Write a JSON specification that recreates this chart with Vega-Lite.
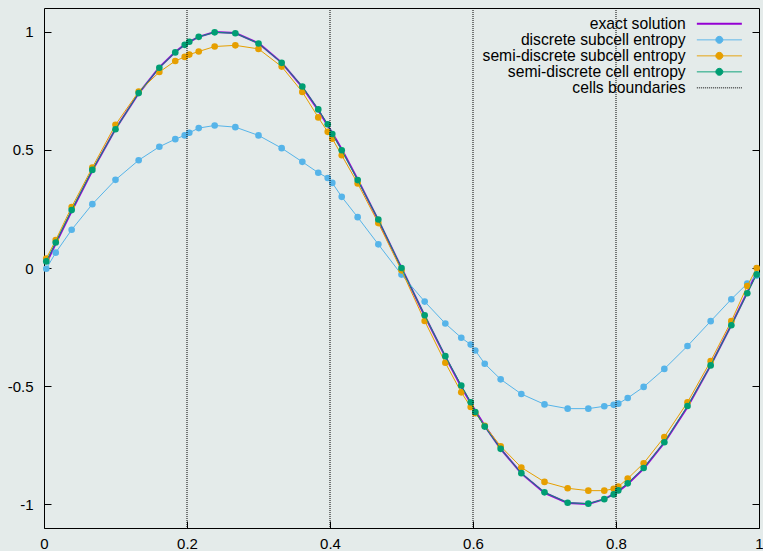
{
  "$schema": "https://vega.github.io/schema/vega-lite/v6.json",
  "width": 715,
  "height": 520,
  "autosize": {"type": "none"},
  "padding": {"left": 44, "top": 8, "right": 4, "bottom": 23},
  "background": "#e4ebea",
  "datasets": {
    "exact": [
      {"x":0.0032,"y":0.020},{"x":0.0164,"y":0.103},{"x":0.0387,"y":0.241},{"x":0.0676,"y":0.412},{"x":0.1,"y":0.588},{"x":0.1324,"y":0.739},{"x":0.1613,"y":0.849},{"x":0.1836,"y":0.914},{"x":0.1968,"y":0.945},
      {"x":0.2032,"y":0.957},{"x":0.2164,"y":0.978},{"x":0.2387,"y":0.998},{"x":0.2676,"y":0.994},{"x":0.3,"y":0.951},{"x":0.3324,"y":0.869},{"x":0.3613,"y":0.765},{"x":0.3836,"y":0.668},{"x":0.3968,"y":0.603},
      {"x":0.4032,"y":0.571},{"x":0.4164,"y":0.502},{"x":0.4387,"y":0.375},{"x":0.4676,"y":0.202},{"x":0.5,"y":0.0},{"x":0.5324,"y":-0.202},{"x":0.5613,"y":-0.375},{"x":0.5836,"y":-0.502},{"x":0.5968,"y":-0.571},
      {"x":0.6032,"y":-0.604},{"x":0.6164,"y":-0.668},{"x":0.6387,"y":-0.765},{"x":0.6676,"y":-0.869},{"x":0.7,"y":-0.951},{"x":0.7324,"y":-0.994},{"x":0.7613,"y":-0.998},{"x":0.7836,"y":-0.978},{"x":0.7968,"y":-0.957},
      {"x":0.8032,"y":-0.945},{"x":0.8164,"y":-0.914},{"x":0.8387,"y":-0.849},{"x":0.8676,"y":-0.739},{"x":0.9,"y":-0.588},{"x":0.9324,"y":-0.412},{"x":0.9613,"y":-0.241},{"x":0.9836,"y":-0.103},{"x":0.9968,"y":-0.020}
    ],
    "discrete": [
      {"x":0.0032,"y":-0.003},{"x":0.0164,"y":0.065},{"x":0.0387,"y":0.162},{"x":0.0676,"y":0.270},{"x":0.1,"y":0.373},{"x":0.1324,"y":0.456},{"x":0.1613,"y":0.513},{"x":0.1836,"y":0.545},{"x":0.1968,"y":0.561},
      {"x":0.2032,"y":0.572},{"x":0.2164,"y":0.592},{"x":0.2387,"y":0.603},{"x":0.2676,"y":0.596},{"x":0.3,"y":0.561},{"x":0.3324,"y":0.507},{"x":0.3613,"y":0.449},{"x":0.3836,"y":0.403},{"x":0.3968,"y":0.381},
      {"x":0.4032,"y":0.360},{"x":0.4164,"y":0.301},{"x":0.4387,"y":0.215},{"x":0.4676,"y":0.100},{"x":0.5,"y":-0.028},{"x":0.5324,"y":-0.142},{"x":0.5613,"y":-0.235},{"x":0.5836,"y":-0.295},{"x":0.5968,"y":-0.324},
      {"x":0.6032,"y":-0.349},{"x":0.6164,"y":-0.405},{"x":0.6387,"y":-0.471},{"x":0.6676,"y":-0.533},{"x":0.7,"y":-0.577},{"x":0.7324,"y":-0.595},{"x":0.7613,"y":-0.595},{"x":0.7836,"y":-0.585},{"x":0.7968,"y":-0.579},
      {"x":0.8032,"y":-0.574},{"x":0.8164,"y":-0.550},{"x":0.8387,"y":-0.503},{"x":0.8676,"y":-0.427},{"x":0.9,"y":-0.330},{"x":0.9324,"y":-0.225},{"x":0.9613,"y":-0.132},{"x":0.9836,"y":-0.066},{"x":0.9968,"y":-0.032}
    ],
    "semisub": [
      {"x":0.0032,"y":0.040},{"x":0.0164,"y":0.118},{"x":0.0387,"y":0.258},{"x":0.0676,"y":0.425},{"x":0.1,"y":0.606},{"x":0.1324,"y":0.746},{"x":0.1613,"y":0.829},{"x":0.1836,"y":0.876},{"x":0.1968,"y":0.893},
      {"x":0.2032,"y":0.903},{"x":0.2164,"y":0.916},{"x":0.2387,"y":0.937},{"x":0.2676,"y":0.942},{"x":0.3,"y":0.927},{"x":0.3324,"y":0.852},{"x":0.3613,"y":0.745},{"x":0.3836,"y":0.637},{"x":0.3968,"y":0.576},
      {"x":0.4032,"y":0.547},{"x":0.4164,"y":0.477},{"x":0.4387,"y":0.358},{"x":0.4676,"y":0.190},{"x":0.5,"y":-0.010},{"x":0.5324,"y":-0.224},{"x":0.5613,"y":-0.401},{"x":0.5836,"y":-0.526},{"x":0.5968,"y":-0.588},
      {"x":0.6032,"y":-0.614},{"x":0.6164,"y":-0.668},{"x":0.6387,"y":-0.754},{"x":0.6676,"y":-0.844},{"x":0.7,"y":-0.905},{"x":0.7324,"y":-0.932},{"x":0.7613,"y":-0.942},{"x":0.7836,"y":-0.942},{"x":0.7968,"y":-0.934},
      {"x":0.8032,"y":-0.925},{"x":0.8164,"y":-0.891},{"x":0.8387,"y":-0.826},{"x":0.8676,"y":-0.715},{"x":0.9,"y":-0.568},{"x":0.9324,"y":-0.394},{"x":0.9613,"y":-0.225},{"x":0.9836,"y":-0.076},{"x":0.9968,"y":0.0}
    ],
    "semicell": [
      {"x":0.0032,"y":0.028},{"x":0.0164,"y":0.108},{"x":0.0387,"y":0.245},{"x":0.0676,"y":0.415},{"x":0.1,"y":0.587},{"x":0.1324,"y":0.740},{"x":0.1613,"y":0.847},{"x":0.1836,"y":0.912},{"x":0.1968,"y":0.944},
      {"x":0.2032,"y":0.957},{"x":0.2164,"y":0.978},{"x":0.2387,"y":0.997},{"x":0.2676,"y":0.993},{"x":0.3,"y":0.950},{"x":0.3324,"y":0.868},{"x":0.3613,"y":0.768},{"x":0.3836,"y":0.671},{"x":0.3968,"y":0.608},
      {"x":0.4032,"y":0.567},{"x":0.4164,"y":0.498},{"x":0.4387,"y":0.372},{"x":0.4676,"y":0.205},{"x":0.5,"y":0.0},{"x":0.5324,"y":-0.200},{"x":0.5613,"y":-0.373},{"x":0.5836,"y":-0.497},{"x":0.5968,"y":-0.568},
      {"x":0.6032,"y":-0.609},{"x":0.6164,"y":-0.671},{"x":0.6387,"y":-0.765},{"x":0.6676,"y":-0.868},{"x":0.7,"y":-0.949},{"x":0.7324,"y":-0.993},{"x":0.7613,"y":-0.997},{"x":0.7836,"y":-0.978},{"x":0.7968,"y":-0.958},
      {"x":0.8032,"y":-0.941},{"x":0.8164,"y":-0.911},{"x":0.8387,"y":-0.846},{"x":0.8676,"y":-0.737},{"x":0.9,"y":-0.584},{"x":0.9324,"y":-0.412},{"x":0.9613,"y":-0.242},{"x":0.9836,"y":-0.107},{"x":0.9968,"y":-0.027}
    ],
    "bounds": [{"x":0.2},{"x":0.4},{"x":0.6},{"x":0.8}]
  },
  "resolve": {"axis": {"y": "independent"}},
  "layer": [
    {
      "data": {"name": "exact"},
      "mark": {"type": "line", "strokeWidth": 2},
      "encoding": {
        "x": {"field": "x", "type": "quantitative", "scale": {"domain": [0, 1], "nice": false, "zero": false},
              "axis": {"title": null, "values": [0, 0.2, 0.4, 0.6, 0.8, 1], "labelExpr": "toString(datum.value)", "labelPadding": 15, "labelFlush": false, "labelOverlap": false}},
        "y": {"field": "y", "type": "quantitative", "scale": {"domain": [-1.1, 1.1], "nice": false, "zero": false},
              "axis": {"title": null, "orient": "left", "values": [-1, -0.5, 0, 0.5, 1], "labelExpr": "toString(datum.value)", "labelPadding": 18}},
        "color": {"datum": "exact solution", "type": "nominal",
          "scale": {"domain": ["exact solution", "discrete subcell entropy", "semi-discrete subcell entropy", "semi-discrete cell entropy", "cells boundaries"],
                    "range": ["#9400d3", "#56b4e9", "#e69f00", "#009e73", "#000000"]},
          "legend": {
            "title": null, "orient": "none", "legendX": 650, "legendY": 8, "padding": 0,
            "labelAlign": "right", "labelOffset": -24, "labelFont": "Liberation Sans", "labelFontSize": 15.7, "labelColor": "#000", "labelLimit": 400,
            "symbolSize": 100, "rowPadding": -1,
            "encode": {"symbols": {"update": {
              "shape": {"signal": "datum.value == 'exact solution' || datum.value == 'cells boundaries' ? 'M-1,0H8' : 'M-1,0H8M2.8,0A0.7,0.7 0 1,1 4.2,0A0.7,0.7 0 1,1 2.8,0'"},
              "stroke": {"scale": "color", "field": "value"},
              "fill": {"scale": "color", "field": "value"},
              "strokeWidth": {"signal": "datum.value == 'exact solution' ? 2 : 1"},
              "strokeDash": {"signal": "datum.value == 'cells boundaries' ? [1, 1] : [1, 0]"},
              "opacity": {"value": 1}
            }}}
          }}
      }
    },
    {
      "data": {"name": "discrete"},
      "mark": {"type": "line", "strokeWidth": 1},
      "encoding": {
        "x": {"field": "x", "type": "quantitative"},
        "y": {"field": "y", "type": "quantitative", "axis": null},
        "color": {"datum": "discrete subcell entropy", "type": "nominal"}
      }
    },
    {
      "data": {"name": "discrete"},
      "mark": {"type": "point", "filled": true, "size": 44, "opacity": 1},
      "encoding": {
        "x": {"field": "x", "type": "quantitative"},
        "y": {"field": "y", "type": "quantitative", "axis": null},
        "color": {"datum": "discrete subcell entropy", "type": "nominal"}
      }
    },
    {
      "data": {"name": "semisub"},
      "mark": {"type": "line", "strokeWidth": 1},
      "encoding": {
        "x": {"field": "x", "type": "quantitative"},
        "y": {"field": "y", "type": "quantitative", "axis": null},
        "color": {"datum": "semi-discrete subcell entropy", "type": "nominal"}
      }
    },
    {
      "data": {"name": "semisub"},
      "mark": {"type": "point", "filled": true, "size": 44, "opacity": 1},
      "encoding": {
        "x": {"field": "x", "type": "quantitative"},
        "y": {"field": "y", "type": "quantitative", "axis": null},
        "color": {"datum": "semi-discrete subcell entropy", "type": "nominal"}
      }
    },
    {
      "data": {"name": "semicell"},
      "mark": {"type": "line", "strokeWidth": 1},
      "encoding": {
        "x": {"field": "x", "type": "quantitative"},
        "y": {"field": "y", "type": "quantitative", "axis": null},
        "color": {"datum": "semi-discrete cell entropy", "type": "nominal"}
      }
    },
    {
      "data": {"name": "semicell"},
      "mark": {"type": "point", "filled": true, "size": 44, "opacity": 1},
      "encoding": {
        "x": {"field": "x", "type": "quantitative"},
        "y": {"field": "y", "type": "quantitative",
              "axis": {"title": null, "orient": "right", "values": [-1, -0.5, 0, 0.5, 1], "labels": false}},
        "color": {"datum": "semi-discrete cell entropy", "type": "nominal"}
      }
    },
    {
      "data": {"name": "bounds"},
      "mark": {"type": "rule", "strokeWidth": 1, "strokeDash": [1, 1]},
      "encoding": {
        "x": {"field": "x", "type": "quantitative"},
        "color": {"datum": "cells boundaries", "type": "nominal"}
      }
    }
  ],
  "config": {
    "font": "Liberation Sans",
    "view": {"stroke": "#000000", "strokeWidth": 1},
    "axis": {"domain": false, "grid": false, "ticks": true, "tickSize": -7, "tickColor": "#000000", "tickWidth": 1,
             "labelFont": "Liberation Sans", "labelFontSize": 15, "labelColor": "#000000"}
  }
}
